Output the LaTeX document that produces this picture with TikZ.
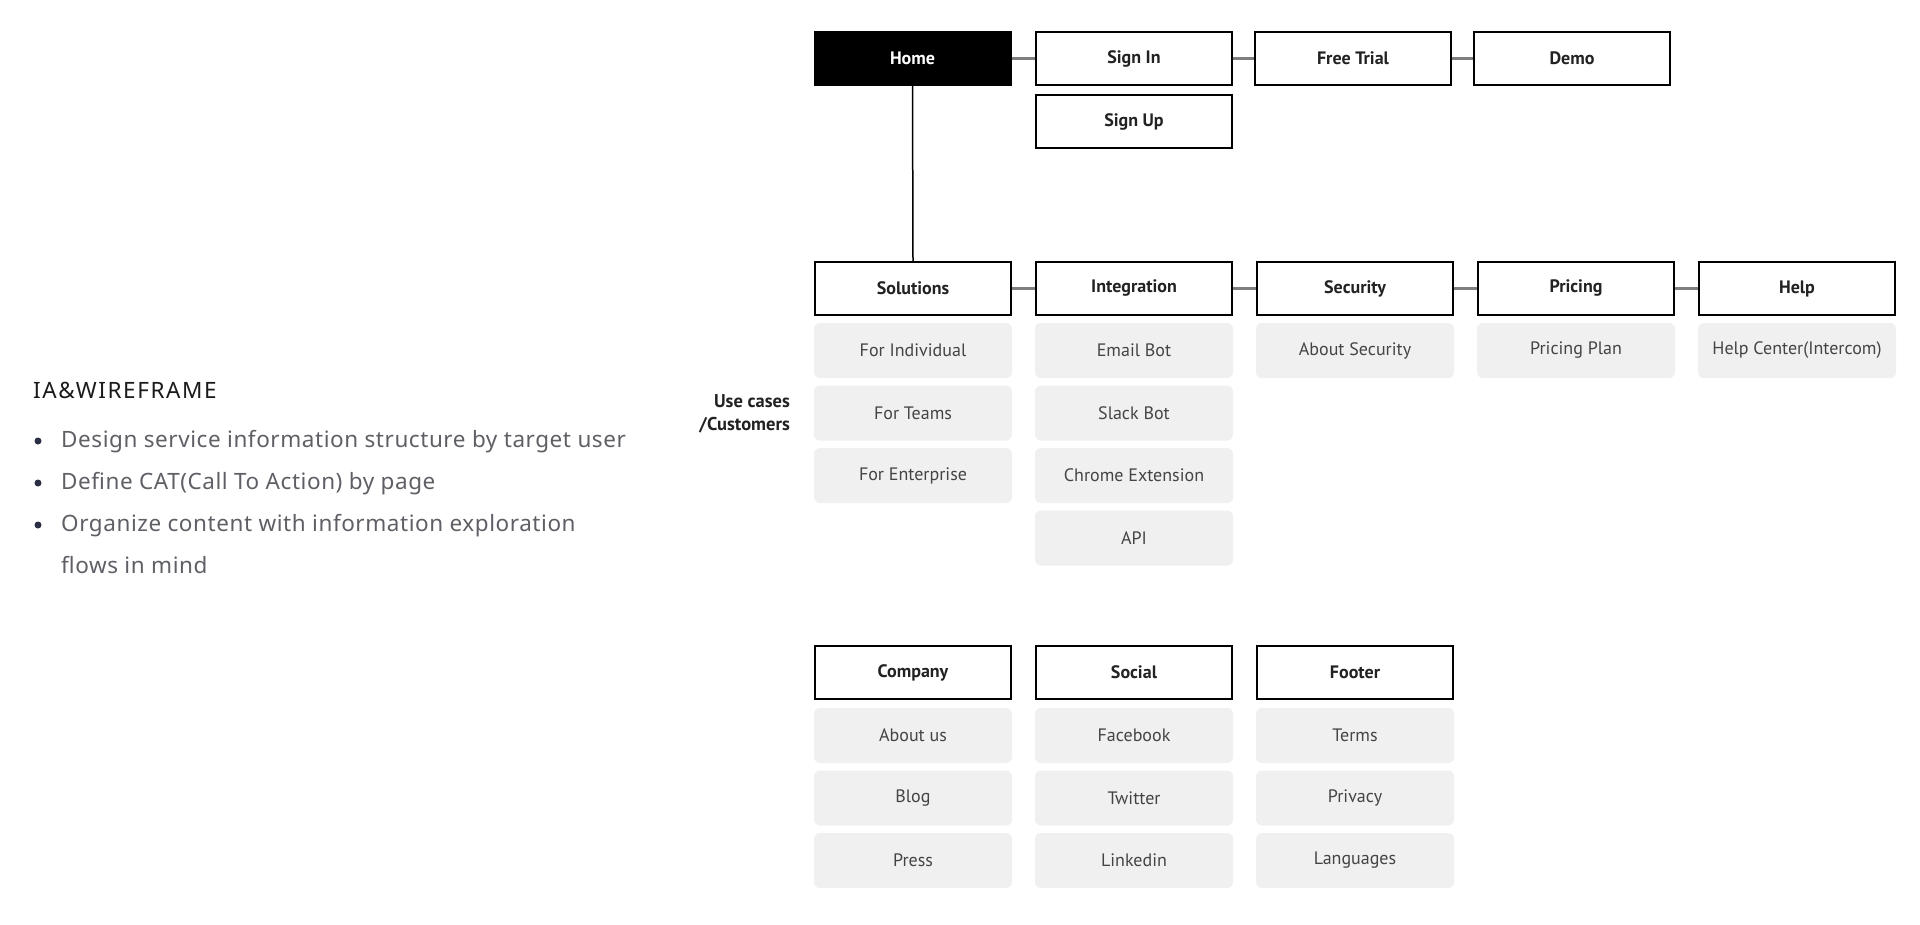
\documentclass[tikz,border=0pt]{standalone}
\usepackage{fontspec}
\setmainfont{PT Sans}
\newfontfamily\bodyfont[LetterSpace=2.5]{Noto Sans}
\newfontfamily\titlefont[LetterSpace=7]{Noto Sans}
\definecolor{hdrtext}{HTML}{222222}
\definecolor{subtext}{HTML}{444444}
\definecolor{subfill}{HTML}{F0F0F0}
\definecolor{linkgray}{HTML}{7F7F7F}
\definecolor{bodytext}{HTML}{5F5F66}
\definecolor{bulletcol}{HTML}{2A2F45}
\definecolor{titletext}{HTML}{1A1A1A}
\begin{document}
\begin{tikzpicture}[x=1pt,y=-1pt,
  hdr/.style={draw=black, line width=2pt, fill=white, minimum width=196pt, minimum height=53pt, inner sep=0pt,
    text=hdrtext, font=\fontsize{18}{22}\selectfont\bfseries},
  homebox/.style={hdr, fill=black, text=white},
  sub/.style={fill=subfill, rounded corners=6pt, minimum width=198pt, minimum height=55pt, inner sep=0pt,
    text=subtext, font=\fontsize{18}{22}\selectfont},
  link/.style={draw=linkgray, line width=3pt},
  vlink/.style={draw=black, line width=1.5pt},
  bodyline/.style={anchor=base west, inner sep=0pt, text=bodytext, font=\bodyfont\fontsize{22.5}{28}\selectfont},
  dot/.style={circle, fill=bulletcol, minimum size=7pt, inner sep=0pt},
  uclabel/.style={anchor=base east, inner sep=0pt, text=hdrtext, font=\fontsize{18.5}{22}\selectfont\bfseries}
]
\useasboundingbox[fill=white] (0,0) rectangle (1920,924);

% left text
\node[anchor=base west, inner sep=0pt, text=titletext, font=\titlefont\fontsize{22.5}{28}\selectfont] (title) at (33,398) {IA\&WIREFRAME};
\node[dot] (d1) at (38,441) {};
\node[bodyline] (b1) at (61,447) {Design service information structure by target user};
\node[dot] (d2) at (38,483) {};
\node[bodyline] (b2) at (61,489) {Define CAT(Call To Action) by page};
\node[dot] (d3) at (38,525) {};
\node[bodyline] (b3) at (61,531) {Organize content with information exploration};
\node[bodyline] (b4) at (61,573) {flows in mind};

% use cases label
\node[uclabel] (uc1) at (790,407) {Use cases};
\node[uclabel] (uc2) at (790,430) {/Customers};

% top row
\node[homebox] (home) at (912.5,58.5) {Home};
\node[hdr] (signin) at (1134,58.5) {Sign In};
\node[hdr] (trial) at (1353,58.5) {Free Trial};
\node[hdr] (demo) at (1572,58.5) {Demo};
\node[hdr] (signup) at (1134,121.5) {Sign Up};

% second row headers
\node[hdr] (sol) at (913,288.5) {Solutions};
\node[hdr] (integ) at (1134,288.5) {Integration};
\node[hdr] (sec) at (1355,288.5) {Security};
\node[hdr] (price) at (1576,288.5) {Pricing};
\node[hdr] (help) at (1797,288.5) {Help};

% second row subpages
\node[sub] (s1) at (913,350.5) {For Individual};
\node[sub] (s2) at (913,413) {For Teams};
\node[sub] (s3) at (913,475.5) {For Enterprise};
\node[sub] (i1) at (1134,350.5) {Email Bot};
\node[sub] (i2) at (1134,413) {Slack Bot};
\node[sub] (i3) at (1134,475.5) {Chrome Extension};
\node[sub] (i4) at (1134,538) {API};
\node[sub] (se1) at (1355,350.5) {About Security};
\node[sub] (p1) at (1576,350.5) {Pricing Plan};
\node[sub] (h1) at (1797,350.5) {Help Center(Intercom)};

% third row
\node[hdr] (comp) at (913,672.5) {Company};
\node[hdr] (soc) at (1134,672.5) {Social};
\node[hdr] (foot) at (1355,672.5) {Footer};
\node[sub] (c1) at (913,735.5) {About us};
\node[sub] (c2) at (913,798) {Blog};
\node[sub] (c3) at (913,860.5) {Press};
\node[sub] (so1) at (1134,735.5) {Facebook};
\node[sub] (so2) at (1134,798) {Twitter};
\node[sub] (so3) at (1134,860.5) {Linkedin};
\node[sub] (f1) at (1355,735.5) {Terms};
\node[sub] (f2) at (1355,798) {Privacy};
\node[sub] (f3) at (1355,860.5) {Languages};

% connectors
\draw[link] (home.east) -- (signin.west);
\draw[link] (signin.east) -- (trial.west);
\draw[link] (trial.east) -- (demo.west);
\draw[vlink] (home.south) -- (sol.north);
\draw[link] (sol.east) -- (integ.west);
\draw[link] (integ.east) -- (sec.west);
\draw[link] (sec.east) -- (price.west);
\draw[link] (price.east) -- (help.west);
\end{tikzpicture}
\end{document}
